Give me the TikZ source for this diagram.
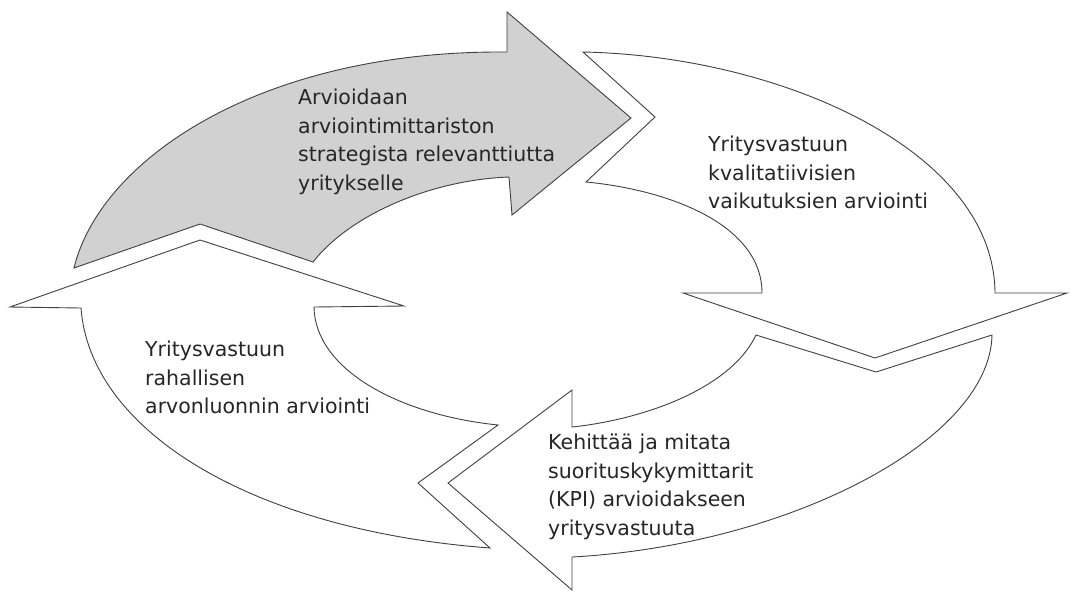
\documentclass[tikz,border=0pt]{standalone}
\usepackage{fontspec}
\newfontfamily\lblfont{DejaVu Sans}
\begin{document}
\begin{tikzpicture}[x=1pt,y=-1pt,
  arr/.style={draw=black!75, line width=0.9pt, line join=miter},
  lbl/.style={font=\lblfont\fontsize{20.5}{28.5}\selectfont, align=left, anchor=north west, inner sep=0pt, text=black!85}]
\useasboundingbox (0,0) rectangle (1070,595);
% gray arrow (top-left, pointing right)
\draw[arr, fill=black!18] (74,268) .. controls (100,160) and (260,50) .. (507,52)
  -- (507,12) -- (631,118) -- (512,215) -- (509,177)
  .. controls (430,180) and (350,215) .. (313,262) -- (200,224) -- cycle;
% right arrow (pointing down)
\draw[arr, fill=white] (583,52) .. controls (780,56) and (994,150) .. (995,293)
  -- (1067,293) -- (875,358) -- (683,293) -- (762,293)
  .. controls (762,225) and (670,190) .. (586,182) -- (655,117) -- cycle;
% bottom arrow (pointing left)
\draw[arr, fill=white] (992,335) .. controls (990,440) and (790,545) .. (572,557)
  -- (572,590) -- (448,483) -- (572,390) -- (572,427)
  .. controls (640,420) and (730,390) .. (756,335) -- (876,372) -- cycle;
% left arrow (pointing up)
\draw[arr, fill=white] (490,548) .. controls (250,530) and (90,430) .. (81,308)
  -- (10,307) -- (200,240) -- (404,306) -- (314,307)
  .. controls (315,370) and (400,415) .. (498,425) -- (418,483) -- cycle;
% labels
\node[lbl] (t1) at (298,89) {Arvioidaan\\arviointimittariston\\strategista relevanttiutta\\yritykselle};
\node[lbl] (t2) at (708,136) {Yritysvastuun\\kvalitatiivisien\\vaikutuksien arviointi};
\node[lbl] (t3) at (548,434) {Kehittää ja mitata\\suorituskykymittarit\\(KPI) arvioidakseen\\yritysvastuuta};
\node[lbl] (t4) at (145,341) {Yritysvastuun\\rahallisen\\arvonluonnin arviointi};
\end{tikzpicture}
\end{document}
